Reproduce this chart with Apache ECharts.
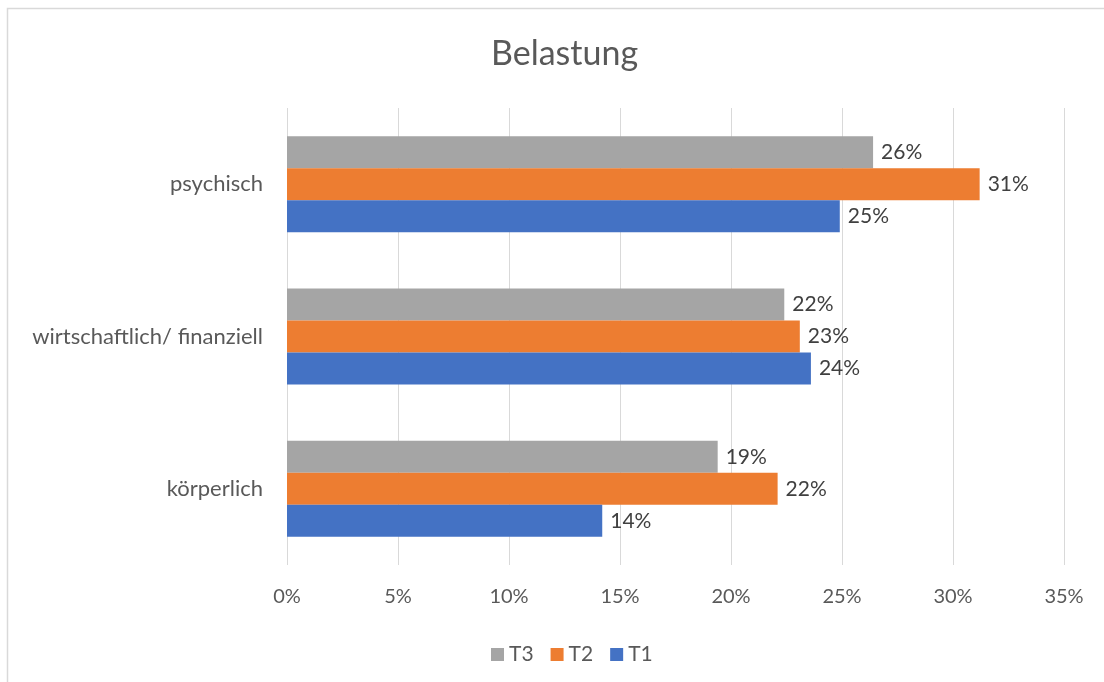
<!DOCTYPE html>
<html>
<head>
<meta charset="utf-8">
<script src="https://cdn.jsdelivr.net/npm/echarts@6/dist/echarts.min.js"></script>
<style>
	html, body { margin: 0; padding: 0; background: #ffffff; }
	#chart { width: 1104px; height: 682px; }
</style>
</head>
<body>
<div id="chart"></div>
<script>
// categories bottom -> top (category y axis grows upwards)
var categories = ["körperlich", "wirtschaftlich/ finanziell", "psychisch"];
var xTicks = [0, 5, 10, 15, 20, 25, 30, 35];
var t1Values = [14.2, 23.6, 24.9];
var t2Values = [22.1, 23.1, 31.2];
var t3Values = [19.4, 22.4, 26.4];

var font = "Lato, 'Noto Sans', sans-serif";

function makeSeries(name, data, color) {
	return {
		name: name,
		type: "bar",
		data: data,
		barGap: "0%",
		barCategoryGap: "37%",
		itemStyle: { color: color },
		label: {
			show: true,
			position: "right",
			distance: 8,
			color: "#404040",
			fontFamily: font,
			fontSize: 21,
			formatter: function(p) {
				return Math.round(p.value) + "%";
			}
		}
	};
}

var chart = echarts.init(document.getElementById("chart"));
var option = {
	animation: false,
	title: {
		text: "Belastung",
		left: 486,
		top: 32,
		textStyle: {
			color: "#595959",
			fontFamily: font,
			fontSize: 34,
			fontWeight: "normal"
		}
	},
	legend: {
		data: ["T3", "T2", "T1"],
		left: 486,
		top: 639,
		itemWidth: 13,
		itemHeight: 13,
		itemGap: 17,
		icon: "rect",
		textStyle: {
			color: "#595959",
			fontFamily: font,
			fontSize: 21
		}
	},
	graphic: [
		{
			type: "rect",
			z: -10,
			shape: { x: 7.5, y: 8.5, width: 1200, height: 800 },
			style: { fill: "none", stroke: "#d9d9d9", lineWidth: 1.5 }
		}
	],
	grid: {
		left: 287,
		right: 40,
		top: 108,
		bottom: 117
	},
	xAxis: {
		type: "value",
		min: 0,
		max: 35,
		interval: 5,
		axisLine: { show: false },
		axisTick: { show: false },
		splitLine: { lineStyle: { color: "#d9d9d9", width: 1 } },
		axisLabel: {
			margin: 22,
			color: "#595959",
			fontFamily: font,
			fontSize: 20,
			formatter: function(v) {
				return xTicks.indexOf(v) >= 0 ? v + "%" : "";
			}
		}
	},
	yAxis: {
		type: "category",
		data: categories,
		axisLine: { show: false },
		axisTick: { show: false },
		axisLabel: {
			margin: 24,
			color: "#595959",
			fontFamily: font,
			fontSize: 22
		}
	},
	series: [
		makeSeries("T3", t3Values, "#a5a5a5"),
		makeSeries("T2", t2Values, "#ed7d31"),
		makeSeries("T1", t1Values, "#4472c4")
	]
};
chart.setOption(option);
</script>
</body>
</html>
